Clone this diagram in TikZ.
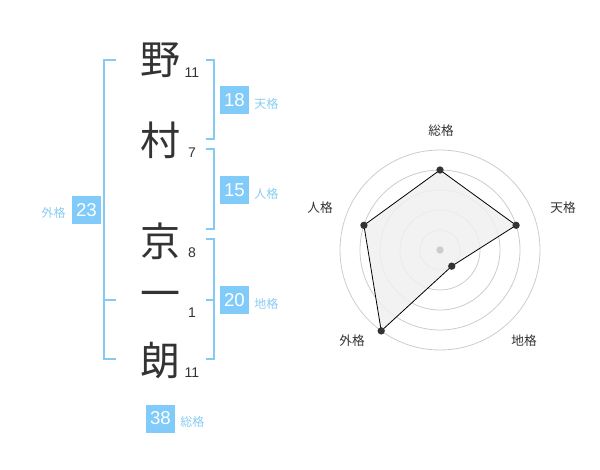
\documentclass[tikz,border=0pt]{standalone}
\usepackage{fontspec}
\setmainfont{Liberation Sans}
\newfontfamily\cjk{Noto Sans CJK JP}
\definecolor{txt}{HTML}{333333}
\definecolor{boxblue}{HTML}{80CBFA}
\definecolor{brblue}{HTML}{85CAF5}
\definecolor{labblue}{HTML}{88CCF2}
\definecolor{ringgray}{HTML}{CCCCCC}
\definecolor{areafill}{HTML}{F0F0F0}
\tikzset{
  kanji/.style={font=\cjk\fontsize{30}{30}\selectfont, text=txt, inner sep=0pt},
  strk/.style={font=\fontsize{10.5}{11}\selectfont, text=txt, inner sep=0pt},
  numbox/.style={fill=boxblue, text=white, inner sep=0pt, minimum width=21.75pt, minimum height=21pt, font=\fontsize{14}{14}\selectfont},
  lab/.style={font=\cjk\fontsize{9}{10}\selectfont, text=labblue, inner sep=0pt},
  bracket/.style={draw=brblue, line width=1.5pt},
  ring/.style={draw=ringgray, line width=0.6pt},
  rlab/.style={font=\cjk\fontsize{9.5}{10}\selectfont, text=txt, inner sep=0pt},
  dot/.style={circle, fill=txt, inner sep=0pt, minimum size=5.5pt},
}
\begin{document}
\begin{tikzpicture}[x=0.75pt, y=-0.75pt]
\useasboundingbox (0,0) rectangle (600,470);
% name characters
\node[kanji] (k1) at (160,60) {野};
\node[kanji] (k2) at (160,140) {村};
\node[kanji] (k3) at (160,241) {京};
\node[kanji] (k4) at (160,300) {一};
\node[kanji] (k5) at (160,360) {朗};
\node[strk] (s1) at (192,73) {11};
\node[strk] (s2) at (192,153) {7};
\node[strk] (s3) at (192,253) {8};
\node[strk] (s4) at (192,313) {1};
\node[strk] (s5) at (192,373) {11};
% brackets
\draw[bracket] (116,60) -- (104,60) -- (104,359.5) -- (116,359.5);
\draw[bracket] (104,300) -- (116,300);
\draw[bracket] (206,60) -- (214,60) -- (214,139.5) -- (206,139.5);
\draw[bracket] (206,149.5) -- (214,149.5) -- (214,229.5) -- (206,229.5);
\draw[bracket] (206,239.5) -- (214,239.5) -- (214,359.5) -- (206,359.5);
\draw[bracket] (206,300) -- (214,300);
% boxes
\node[numbox] (b18) at (234.5,100) {18};
\node[numbox] (b15) at (234.5,190) {15};
\node[numbox] (b20) at (234.5,300) {20};
\node[numbox] (b23) at (86.5,210) {23};
\node[numbox] (b38) at (160.5,418.5) {38};
\node[lab, anchor=west] (l18) at (254,103.5) {天格};
\node[lab, anchor=west] (l15) at (254,193.5) {人格};
\node[lab, anchor=west] (l20) at (254,303.5) {地格};
\node[lab, anchor=east] (l23) at (66,213) {外格};
\node[lab, anchor=west] (l38) at (180,422) {総格};
% radar
\begin{scope}[shift={(440,250)}, yscale=-1]
  \foreach \r in {20,40,60,80,100} \draw[ring] (0,0) circle[radius=\r];
  \coordinate (p1) at (90:80);
  \coordinate (p2) at (18:80);
  \coordinate (p3) at (-54:20);
  \coordinate (p4) at (-126:100);
  \coordinate (p5) at (162:80);
  \draw[fill=areafill, fill opacity=0.85, draw=black, line width=0.6pt] (p1) -- (p2) -- (p3) -- (p4) -- (p5) -- cycle;
  \node[circle, fill=ringgray, inner sep=0pt, minimum size=5.5pt] (c0) at (0,0) {};
  \node[dot] (d1) at (p1) {};
  \node[dot] (d2) at (p2) {};
  \node[dot] (d3) at (p3) {};
  \node[dot] (d4) at (p4) {};
  \node[dot] (d5) at (p5) {};
\end{scope}
\node[rlab] (r1) at (441,131) {総格};
\node[rlab] (r2) at (563,208) {天格};
\node[rlab] (r3) at (524,341) {地格};
\node[rlab] (r4) at (352,341) {外格};
\node[rlab] (r5) at (320,208) {人格};
\end{tikzpicture}
\end{document}
